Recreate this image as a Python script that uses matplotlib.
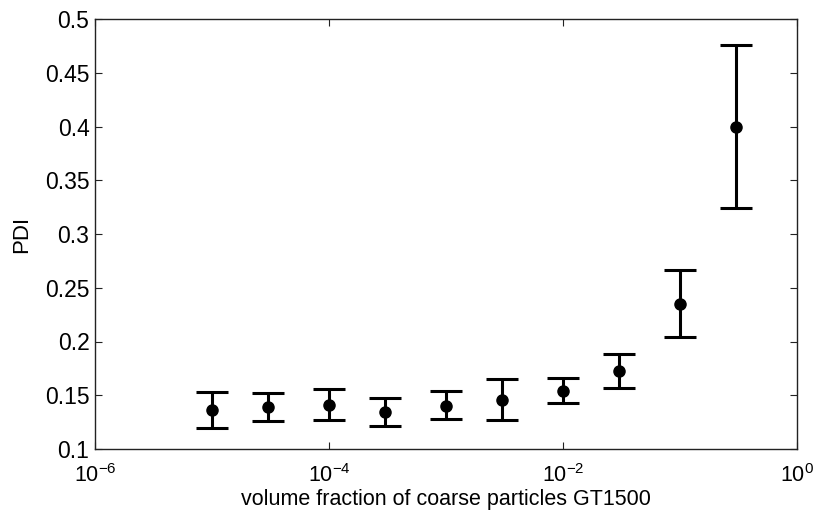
import matplotlib
matplotlib.use("Agg")
import matplotlib.pyplot as plt
import numpy as np
from matplotlib.ticker import NullLocator, FixedLocator

plt.rcParams['font.family'] = ['Liberation Sans', 'DejaVu Sans']
plt.rcParams['mathtext.fontset'] = 'custom'
plt.rcParams['mathtext.rm'] = 'Liberation Sans'
plt.rcParams['mathtext.default'] = 'regular'

# Volume fraction of coarse particles and measured PDI
volume_fraction = [1e-5, 3e-5, 1e-4, 3e-4, 1e-3, 3e-3, 1e-2, 3e-2, 1e-1, 3e-1]
pdi_mean = [0.1366, 0.1393, 0.1409, 0.1347, 0.1403, 0.1456, 0.1542, 0.1726, 0.2349, 0.3998]
pdi_upper = [0.1533, 0.1524, 0.1555, 0.1477, 0.1540, 0.1648, 0.1658, 0.1881, 0.2665, 0.4758]
pdi_lower = [0.1193, 0.1260, 0.1267, 0.1214, 0.1276, 0.1267, 0.1431, 0.1570, 0.2039, 0.3242]

y_ticks = [0.1, 0.15, 0.2, 0.25, 0.3, 0.35, 0.4, 0.45, 0.5]
y_tick_labels = ['0.1', '0.15', '0.2', '0.25', '0.3', '0.35', '0.4', '0.45', '0.5']
x_ticks = [1e-6, 1e-4, 1e-2, 1]
x_tick_labels = [r'$10^{-6}$', r'$10^{-4}$', r'$10^{-2}$', r'$10^{0}$']

mean = np.array(pdi_mean)
yerr = np.vstack([mean - np.array(pdi_lower), np.array(pdi_upper) - mean])

fig = plt.figure(figsize=(8.21, 5.13), dpi=100)
ax = fig.add_axes([95 / 821, 1 - 449 / 513, (797 - 95) / 821, (449 - 19) / 513])

ax.errorbar(volume_fraction, pdi_mean, yerr=yerr, fmt='o', color='black',
            markersize=8, elinewidth=2.2, capsize=11.5, capthick=2.2)

ax.set_xscale('log')
ax.set_xlim(1e-6, 1)
ax.set_ylim(0.1, 0.5)
ax.xaxis.set_major_locator(FixedLocator(x_ticks))
ax.xaxis.set_minor_locator(NullLocator())
ax.set_xticklabels(x_tick_labels)
ax.set_yticks(y_ticks)
ax.set_yticklabels(y_tick_labels)

ax.tick_params(axis='both', which='both', direction='in', top=True, right=True,
               length=5, width=0.8, color='#222222')
ax.tick_params(axis='y', labelsize=16.5, pad=4)
ax.tick_params(axis='x', labelsize=15.5, pad=11)
for s in ax.spines.values():
    s.set_linewidth(1.0)
    s.set_color('#222222')

ax.set_xlabel('volume fraction of coarse particles GT1500', fontsize=15.5, labelpad=1)
ax.set_ylabel('PDI', fontsize=16)
ax.yaxis.set_label_coords(-0.09, 0.5)

fig.savefig('out.png', dpi=100)
